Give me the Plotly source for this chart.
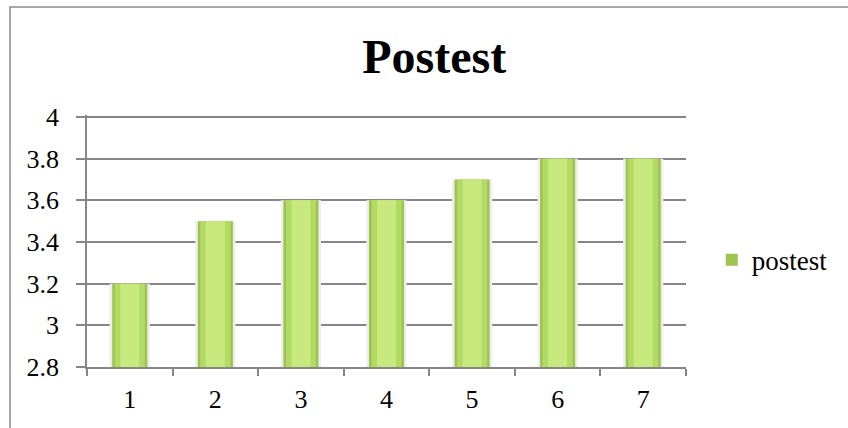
import plotly.graph_objects as go

categories = ["1", "2", "3", "4", "5", "6", "7"]
postest = [3.2, 3.5, 3.6, 3.6, 3.7, 3.8, 3.8]
y_ticks = [2.8, 3, 3.2, 3.4, 3.6, 3.8, 4]
y_tick_text = ["2.8", "3", "3.2", "3.4", "3.6", "3.8", "4"]

fig = go.Figure()

# soft shadow behind each bar
fig.add_trace(go.Bar(x=categories, y=postest, width=0.47,
                     marker=dict(color="#eeeeee", line=dict(width=0)),
                     showlegend=False, hoverinfo="skip"))
# layered fills give the bars a rounded, glossy look
fig.add_trace(go.Bar(x=categories, y=postest, width=0.41, name="postest",
                     marker=dict(color="#9dc44e", line=dict(width=0))))
fig.add_trace(go.Bar(x=categories, y=postest, width=0.35,
                     marker=dict(color="#b4da66", line=dict(width=0)),
                     showlegend=False, hoverinfo="skip"))
fig.add_trace(go.Bar(x=categories, y=postest, width=0.22,
                     marker=dict(color="#c8e97e", line=dict(width=0)),
                     showlegend=False, hoverinfo="skip"))

fig.update_layout(
    width=848, height=428,
    margin=dict(l=87, r=162, t=115, b=61),
    paper_bgcolor="white", plot_bgcolor="white",
    barmode="overlay",
    title=dict(text="<b>Postest</b>", x=0.512, xref="container", xanchor="center",
               y=1 - 56 / 428, yref="container", yanchor="middle",
               font=dict(family="Liberation Serif", size=48, color="black")),
    font=dict(family="Liberation Serif", size=26, color="black"),
    legend=dict(x=1.043, y=0.424, xanchor="left", yanchor="middle",
                font=dict(family="Liberation Serif", size=27, color="black"),
                itemwidth=30, bgcolor="rgba(0,0,0,0)"),
    shapes=[dict(type="rect", xref="paper", yref="paper",
                 x0=(10 - 87) / 599, x1=1.5, y0=-0.5, y1=(367 - 7) / 252,
                 line=dict(color="#8a8a8a", width=1.5), layer="below")],
)

fig.update_xaxes(
    showgrid=False, showline=True, linecolor="#868686", linewidth=1.5,
    ticks="outside", ticklen=7, tickcolor="#868686", tickwidth=1.5,
    tickson="boundaries", tickfont=dict(size=26), range=[-0.5, 6.5],
    ticklabelstandoff=8,
)
fig.update_yaxes(
    range=[2.8, 4.0096], tickvals=y_ticks, ticktext=y_tick_text,
    showgrid=True, gridcolor="#868686", gridwidth=1.5,
    showline=True, linecolor="#868686", linewidth=1.5,
    ticks="outside", ticklen=9, tickcolor="#868686", tickwidth=1.5,
    tickfont=dict(size=26), zeroline=False, ticklabelstandoff=12,
)

fig.write_html("out.html")
